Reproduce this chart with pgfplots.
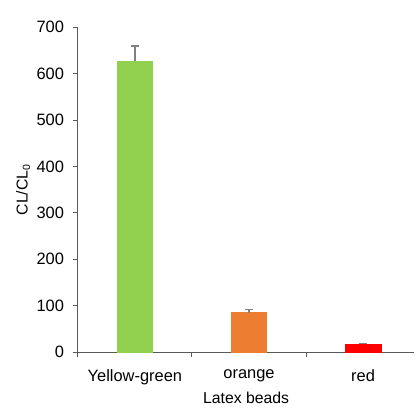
\documentclass[border={9pt 0pt 0pt 13pt}]{standalone}
\usepackage{fontspec}
\setmainfont{Liberation Sans}
\usepackage{pgfplots}
\pgfplotsset{compat=1.18}
\definecolor{ygreen}{HTML}{92D050}
\definecolor{borange}{HTML}{ED7D31}
\definecolor{bred}{HTML}{FF0000}
\definecolor{axgray}{HTML}{595959}
\begin{document}
\begin{tikzpicture}
\begin{axis}[
  scale only axis,
  width=256pt, height=247pt,
  xmin=-0.5, xmax=2.45,
  ymin=0, ymax=700,
  ytick={0,100,...,700},
  xtick={-0.5,0.5,1.5},
  xticklabels={},
  extra x ticks={0,1,2},
  extra x tick labels={Yellow-green,orange,red},
  extra x tick style={major tick length=0pt},
  axis x line*=bottom,
  axis y line*=left,
  axis line style={draw=axgray, line width=0.8pt, -},
  tick style={draw=axgray, line width=0.8pt},
  tick align=outside,
  major tick length=4pt,
  tick label style={font=\fontsize{12.5}{15}\selectfont, text=black},
  label style={font=\fontsize{12}{14}\selectfont},
  /pgf/number format/assume math mode=true,
  ylabel={CL/CL\textsubscript{0}},
  xlabel={Latex beads},
  xlabel style={yshift=6pt},
  ylabel style={yshift=-2pt},
  yticklabel style={xshift=-3pt},
  xticklabel style={yshift=-10pt},
  bar width=0.31,
  ybar,
  bar shift=0pt,
  clip=false,
]
\addplot[fill=ygreen, draw=ygreen, error bars/.cd, y dir=plus, y explicit, error bar style={draw=gray, line width=1.2pt}, error mark options={rotate=90, mark size=3pt, gray, line width=1pt}]
  coordinates {(0,627) +- (0,33)};
\addplot[fill=borange, draw=borange, error bars/.cd, y dir=plus, y explicit, error bar style={draw=gray, line width=1.2pt}, error mark options={rotate=90, mark size=3pt, gray, line width=1pt}]
  coordinates {(1,85) +- (0,7)};
\addplot[fill=bred, draw=bred, error bars/.cd, y dir=plus, y explicit, error bar style={draw=gray, line width=1.2pt}, error mark options={rotate=90, mark size=3pt, gray, line width=1pt}]
  coordinates {(2,17) +- (0,2)};
\end{axis}
\end{tikzpicture}
\end{document}
